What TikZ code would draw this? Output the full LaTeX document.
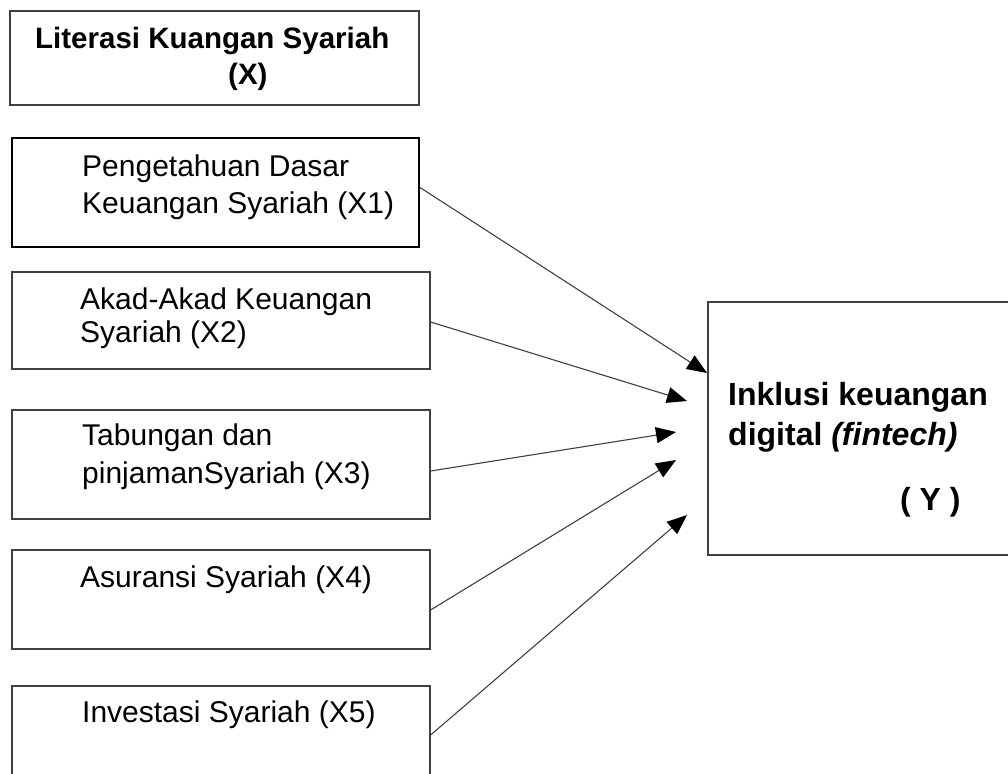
\documentclass[tikz,border=0pt]{standalone}
\usepackage{fontspec}
\setmainfont{Liberation Sans}
\usetikzlibrary{arrows.meta,calc}
\definecolor{boxgray}{HTML}{404040}

\begin{document}
\begin{tikzpicture}[x=1pt,y=-1pt,>={Triangle[length=20pt,width=16pt,color=black]},
  box/.style={draw=boxgray,line width=1.2pt,inner sep=0pt},
  lbl/.style={anchor=base west,inner sep=0pt,align=left,font=\fontsize{30}{38}\selectfont},
  ylbl/.style={anchor=base west,inner sep=0pt,align=left,font=\fontsize{32}{40}\selectfont\bfseries},
  link/.style={->,draw=boxgray,line width=1.1pt}]
  \useasboundingbox (0,0) rectangle (1008,773);
  \node[box,minimum width=409pt,minimum height=94pt] (lk) at (214.5,58) {};
  \node[box,draw=black,line width=2pt,minimum width=407pt,minimum height=109pt] (x1) at (215.5,192.5) {};
  \node[box,minimum width=418pt,minimum height=97pt] (x2) at (221,320.5) {};
  \node[box,minimum width=418pt,minimum height=109pt] (x3) at (221,464.5) {};
  \node[box,minimum width=418pt,minimum height=99pt] (x4) at (221,599.5) {};
  \node[box,minimum width=418pt,minimum height=114pt] (x5) at (221,743) {};
  \node[box,minimum width=312pt,minimum height=253pt] (y) at (864,428.5) {};
  \node[lbl,font=\fontsize{29.5}{36}\selectfont\bfseries] (lktxt) at (35,49) {Literasi Kuangan Syariah};
  \node[lbl,font=\fontsize{29.5}{36}\selectfont\bfseries] (lkx) at (228,85) {(X)};
  \node[lbl,font=\fontsize{30}{37}\selectfont] (x1txt) at (82,213) {Pengetahuan Dasar\\Keuangan Syariah (X1)};
  \node[lbl,font=\fontsize{30}{33}\selectfont] (x2txt) at (80,342) {Akad-Akad Keuangan\\Syariah (X2)};
  \node[lbl] (x3txt) at (82,483) {Tabungan dan\\pinjamanSyariah (X3)};
  \node[lbl] (x4txt) at (80,587) {Asuransi Syariah (X4)};
  \node[lbl] (x5txt) at (82,722) {Investasi Syariah (X5)};
  \node[ylbl] (ytxt) at (728,445) {Inklusi keuangan\\digital \textit{(fintech)}};
  \node[ylbl] (yy) at (900,510) {( Y )};
  \coordinate (t1) at (707,373);
  \coordinate (t2) at (687,401);
  \coordinate (t3) at (676,432);
  \coordinate (t4) at (676,460);
  \coordinate (t5) at (687,515);
  \draw[link] ([yshift=5pt]x1.east) -- (t1);
  \draw[link] ([yshift=-1.5pt]x2.east) -- (t2);
  \draw[link] ([yshift=-6.5pt]x3.east) -- (t3);
  \draw[link] ([yshift=-10.5pt]x4.east) -- (t4);
  \draw[link] ([yshift=8pt]x5.east) -- (t5);
\end{tikzpicture}
\end{document}
